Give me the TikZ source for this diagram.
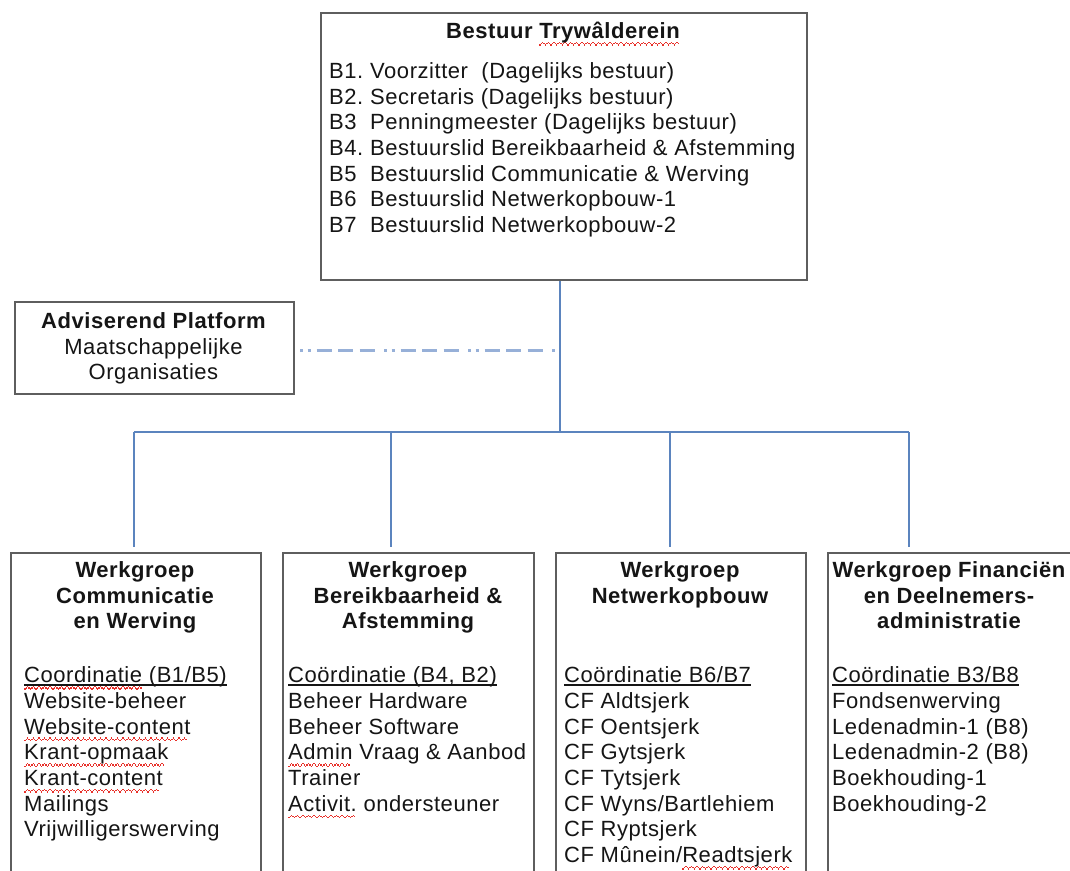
\documentclass[tikz,border=0pt]{standalone}
\usepackage{fontspec}
\setmainfont{Liberation Sans}[LetterSpace=2.5]
\usetikzlibrary{calc}
\definecolor{boxgray}{HTML}{5E5E5E}
\definecolor{connblue}{HTML}{5B84BE}
\definecolor{dashblue}{HTML}{97B0D8}
\definecolor{spellred}{HTML}{E8302A}
\definecolor{inkc}{HTML}{151515}
\newcommand\bodysize{\fontsize{22pt}{25.7pt}\selectfont}
\newsavebox\ulbox
\newsavebox\spbox
\newcommand\wavepiece{\hbox{\textcolor{spellred}{\rule[-7pt]{1.4pt}{1.3pt}\rule[-5.8pt]{1.4pt}{1.3pt}\rule[-4.6pt]{1.4pt}{1.3pt}\rule[-5.8pt]{1.4pt}{1.3pt}}}}
\newcommand\spell[1]{\sbox\spbox{#1}\rlap{\leaders\wavepiece\hskip\wd\spbox}\usebox\spbox}
\newcommand\uln[1]{\sbox\ulbox{#1}\rlap{\rule[-2.8pt]{\wd\ulbox}{1.2pt}}\usebox\ulbox}
\tikzset{
  box/.style={draw=boxgray, line width=2pt, fill=white, anchor=north west, inner sep=0pt},
  item/.style={anchor=base west, inner sep=0pt, text=inkc, font=\bodysize},
  ttl/.style={anchor=base, inner sep=0pt, text=inkc, font=\bodysize\bfseries},
  ctr/.style={anchor=base, inner sep=0pt, text=inkc, font=\bodysize},
  conn/.style={draw=connblue, line width=1.6pt},
  dashc/.style={draw=dashblue, line width=3pt, dash pattern=on 3pt off 4.5pt on 3pt off 6pt on 15pt off 6.5pt on 15pt off 6.5pt on 15pt off 9.5pt}
}
\begin{document}
\begin{tikzpicture}[x=1pt,y=-1pt,font=\bodysize]
\useasboundingbox (0,0) rectangle (1070,870);
\clip (0,0) rectangle (1070,870);
\fill[white] (0,0) rectangle (1070,870);

% boxes
\node[box, minimum width=486pt, minimum height=267pt] (top) at (320,12) {};
\node[box, minimum width=279pt, minimum height=92pt] (adv) at (14,301) {};
\node[box, minimum width=250pt, minimum height=400pt] (w1) at (10,552) {};
\node[box, minimum width=251pt, minimum height=400pt] (w2) at (282,552) {};
\node[box, minimum width=250pt, minimum height=400pt] (w3) at (555,552) {};
\node[box, minimum width=247pt, minimum height=400pt] (w4) at (827,552) {};

% connectors
\coordinate (busc) at (560,432);
\coordinate (b1) at (134,432);
\coordinate (b2) at (391,432);
\coordinate (b3) at (670,432);
\coordinate (b4) at (909,432);
\coordinate (pj) at (559,350);
\draw[conn] (busc |- top.south) -- (busc);
\draw[conn] (b1) -- (b4);
\draw[conn, shorten >=5pt] (b1) -- (b1 |- w1.north);
\draw[conn, shorten >=5pt] (b2) -- (b2 |- w2.north);
\draw[conn, shorten >=5pt] (b3) -- (b3 |- w3.north);
\draw[conn, shorten >=5pt] (b4) -- (b4 |- w4.north);
\draw[dashc] ([xshift=5pt]adv.east |- pj) -- (pj);

% top box text
\node[ttl] (toptitle) at (563,38.5) {Bestuur \spell{Trywâlderein}};
\foreach \l/\t [count=\i from 0] in {
  B1./{Voorzitter\ \ (Dagelijks bestuur)},
  B2./{Secretaris (Dagelijks bestuur)},
  B3/{Penningmeester (Dagelijks bestuur)},
  B4./{Bestuurslid Bereikbaarheid \& Afstemming},
  B5/{Bestuurslid Communicatie \& Werving},
  B6/{Bestuurslid Netwerkopbouw-1},
  B7/{Bestuurslid Netwerkopbouw-2}}
  \node[item] (tb\i) at (329,{78.3+25.7*\i}) {\makebox[41pt][l]{\l}\t};

% advisory box text
\node[ttl] (advt) at (153.5,328.5) {Adviserend Platform};
\node[ctr] (adv1) at (153.5,354) {Maatschappelijke};
\node[ctr] (adv2) at (153.5,379.5) {Organisaties};

% werkgroep 1
\foreach \t [count=\i from 0] in {Werkgroep, Communicatie, en Werving}
  \node[ttl] (w1t\i) at (135,{577.7+25.5*\i}) {\t};
\node[item] (w1c) at (24,682.7) {\uln{\spell{Coordinatie} (B1/B5)}};
\foreach \t [count=\i from 1] in {Website-beheer, {\spell{Website-content}}, {\spell{Krant-opmaak}}, {\spell{Krant-content}}, Mailings, Vrijwilligerswerving}
  \node[item] (w1i\i) at (24,{682.7+25.7*\i}) {\t};

% werkgroep 2
\foreach \t [count=\i from 0] in {Werkgroep, {Bereikbaarheid \&}, Afstemming}
  \node[ttl] (w2t\i) at (408,{577.7+25.5*\i}) {\t};
\node[item] (w2c) at (288,682.7) {\uln{Coördinatie (B4, B2)}};
\foreach \t [count=\i from 1] in {Beheer Hardware, Beheer Software, {\spell{Admin} Vraag \& Aanbod}, Trainer, {\spell{Activit.} ondersteuner}}
  \node[item] (w2i\i) at (288,{682.7+25.7*\i}) {\t};

% werkgroep 3
\foreach \t [count=\i from 0] in {Werkgroep, Netwerkopbouw}
  \node[ttl] (w3t\i) at (680,{577.7+25.5*\i}) {\t};
\node[item] (w3c) at (564,682.7) {\uln{Coördinatie B6/B7}};
\foreach \t [count=\i from 1] in {CF Aldtsjerk, CF Oentsjerk, CF Gytsjerk, CF Tytsjerk, {CF Wyns/Bartlehiem}, CF Ryptsjerk, {CF Mûnein/\spell{Readtsjerk}}}
  \node[item] (w3i\i) at (564,{682.7+25.7*\i}) {\t};

% werkgroep 4
\foreach \t [count=\i from 0] in {Werkgroep Financiën, en Deelnemers-, administratie}
  \node[ttl] (w4t\i) at (949,{577.7+25.5*\i}) {\t};
\node[item] (w4c) at (832,682.7) {\uln{Coördinatie B3/B8}};
\foreach \t [count=\i from 1] in {Fondsenwerving, {Ledenadmin-1 (B8)}, {Ledenadmin-2 (B8)}, Boekhouding-1, Boekhouding-2}
  \node[item] (w4i\i) at (832,{682.7+25.7*\i}) {\t};
\end{tikzpicture}
\end{document}
